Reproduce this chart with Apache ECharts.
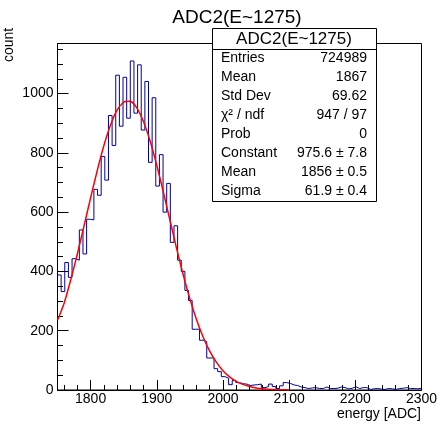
<!DOCTYPE html>
<html><head><meta charset="utf-8">
<script src="https://cdn.jsdelivr.net/npm/echarts@6/dist/echarts.min.js"></script>
<style>html,body{margin:0;padding:0;background:#fff}#c{width:440px;height:426px}</style>
</head><body><div id="c"></div>
<script>
const chartTitle = 'ADC2(E~1275)';
const xTitle = 'energy [ADC]';
const yTitle = 'count';
const binLow = 1750, binWidth = 5.5;
const counts = [
  388, 332, 430, 380, 443, 438, 540, 459, 576, 574,
  677, 657, 788, 708, 926, 825, 1062, 890, 1055, 917,
  1110, 934, 1097, 877, 1041, 768, 986, 688, 794, 600,
  697, 498, 554, 438, 400, 336, 302, 205, 205, 168,
  163, 108, 108, 72, 62, 45, 40, 18, 32, 25,
  21, 20, 15, 17, 18, 20, 8, 12, 20, 12,
  5, 14, 25, 22, 17, 15, 10, 8, 5, 7,
  8, 5, 5, 10, 5, 5, 6, 10, 8, 4,
  6, 11, 5, 8, 8, 2, 4, 5, 3, 2,
  5, 4, 2, 5, 6, 8, 5, 5, 4, 6
];
const fitX = [1750,1760,1770,1780,1790,1800,1810,1820,1830,1840,1850,1860,1870,1880,1890,1900,1910,1920,1930,1940,1950,1960,1970,1980,1990,2000,2010,2020,2030,2040,2050,2060,2070,2080,2090,2100];
const fitY = [235,293,372,459,553,648,740,824,893,944,971,974,951,905,839,758,667,572,477,388,308,238,179,131,94,65,44,29,19,12,7,4,2.5,1.4,0.8,0.4];
const xMajor = [1800,1900,2000,2100,2200,2300];
const xMinor = [1760,1780,1820,1840,1860,1880,1920,1940,1960,1980,2020,2040,2060,2080,2120,2140,2160,2180,2220,2240,2260,2280];
const yMajor = [0,200,400,600,800,1000];
const yMinor = [50,100,150,250,300,350,450,500,550,650,700,750,850,900,950,1050,1100,1150];
const statTitle = 'ADC2(E~1275)';
const statLabels = ['Entries','Mean','Std Dev','χ² / ndf','Prob','Constant','Mean','Sigma'];
const statValues = ['724989','1867','69.62','947 / 97','0','975.6 ± 7.8','1856 ± 0.5','61.9 ± 0.4'];

const FONT = "'Liberation Sans', Arial, Helvetica, sans-serif";
const histData = counts.map((v, i) => [binLow + i * binWidth, v]);
histData.push([binLow + counts.length * binWidth, counts[counts.length - 1]]);
const fitData = fitX.map((x, i) => [x, fitY[i]]);

const chart = echarts.init(document.getElementById('c'), null, {renderer: 'canvas'});
const blackLine = {color: '#000', width: 1};
const plain = v => String(v);
function xAxisDef(ticks, len, showLine, showLabel) {
  return {
    type: 'value', min: 1750, max: 2300, position: 'bottom', gridIndex: 0,
    axisLine: {show: showLine, onZero: false, lineStyle: blackLine},
    axisTick: {show: true, inside: true, length: len, customValues: ticks, lineStyle: blackLine},
    axisLabel: {show: showLabel, customValues: ticks, formatter: plain, color: '#000', fontSize: 14, fontFamily: FONT, margin: 2},
    splitLine: {show: false}, minorTick: {show: false}
  };
}
function yAxisDef(ticks, len, showLine, showLabel) {
  return {
    type: 'value', min: 0, max: 1169, position: 'left', gridIndex: 0,
    axisLine: {show: showLine, onZero: false, lineStyle: blackLine},
    axisTick: {show: true, inside: true, length: len, customValues: ticks, lineStyle: blackLine},
    axisLabel: {show: showLabel, customValues: ticks, formatter: plain, color: '#000', fontSize: 14, fontFamily: FONT, margin: 4},
    splitLine: {show: false}, minorTick: {show: false}
  };
}
const rowTop = 49, rowH = 19;
const statEls = [
  {type: 'rect', shape: {x: 212.5, y: 28.5, width: 164, height: 173}, style: {fill: '#fff', stroke: '#000', lineWidth: 1}},
  {type: 'line', shape: {x1: 212.5, y1: 49.5, x2: 376.5, y2: 49.5}, style: {stroke: '#000', lineWidth: 1}},
  {type: 'text', x: 294, y: 39, style: {text: statTitle, font: '17px ' + FONT, fill: '#000', textAlign: 'center', textVerticalAlign: 'middle'}}
];
statLabels.forEach((l, i) => {
  statEls.push({type: 'text', x: 221, y: rowTop + rowH * i + 9.5, style: {text: l, font: '14px ' + FONT, fill: '#000', textAlign: 'left', textVerticalAlign: 'middle'}});
  statEls.push({type: 'text', x: 367, y: rowTop + rowH * i + 9.5, style: {text: statValues[i], font: '14px ' + FONT, fill: '#000', textAlign: 'right', textVerticalAlign: 'middle'}});
});

chart.setOption({
  animation: false,
  backgroundColor: '#fff',
  grid: {left: 57.5, right: 18.5, top: 43.5, bottom: 36, show: true, borderColor: '#000', borderWidth: 1, backgroundColor: 'transparent', containLabel: false, outerBoundsMode: 'none'},
  xAxis: [xAxisDef(xMajor, 10, true, true), xAxisDef(xMinor, 5, false, false)],
  yAxis: [yAxisDef(yMajor, 11, true, true), yAxisDef(yMinor, 5.5, false, false)],
  series: [
    {type: 'line', step: 'end', data: histData, showSymbol: false, symbol: 'none', xAxisIndex: 0, yAxisIndex: 0,
     lineStyle: {color: '#000099', width: 1}, z: 2},
    {type: 'line', data: fitData, smooth: 0.2, showSymbol: false, symbol: 'none', xAxisIndex: 0, yAxisIndex: 0,
     lineStyle: {color: '#ff0000', width: 1.5}, z: 3}
  ],
  graphic: [
    {type: 'text', x: 237, y: 18, z: 100, style: {text: chartTitle, font: '19px ' + FONT, fill: '#000', textAlign: 'center', textVerticalAlign: 'middle'}},
    {type: 'text', x: 421, y: 414, z: 100, style: {text: xTitle, font: '14px ' + FONT, fill: '#000', textAlign: 'right', textVerticalAlign: 'middle'}},
    {type: 'text', x: 9, y: 45, rotation: Math.PI / 2, z: 100, style: {text: yTitle, font: '14px ' + FONT, fill: '#000', textAlign: 'center', textVerticalAlign: 'middle'}},
    {type: 'group', z: 100, children: statEls}
  ]
});
</script>
</body></html>
